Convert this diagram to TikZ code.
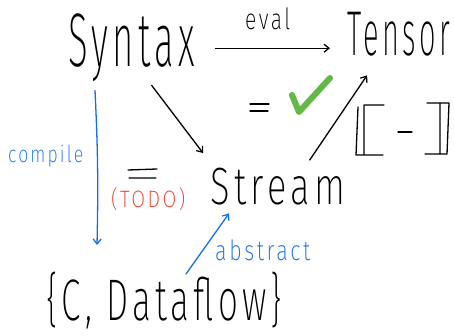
\documentclass[tikz,border=0pt]{standalone}
\usepackage{fontspec}
\usepackage{graphicx}
\setmainfont{Fira Sans ExtraLight}[LetterSpace=12]
\usetikzlibrary{arrows.meta,calc}
\definecolor{penblue}{RGB}{20,110,240}
\definecolor{penred}{RGB}{235,60,40}
\definecolor{pengreen}{RGB}{100,185,70}
\begin{document}
\begin{tikzpicture}[x=1pt,y=-1pt,line cap=round,line join=round,
  ink/.style={line width=1.3pt,black},
  arr/.style={ink,-{Straight Barb[length=5pt,width=8pt]}},
  barr/.style={arr,draw=penblue},
  word/.style={inner sep=0pt,anchor=north west}]
\useasboundingbox[fill=white] (0,0) rectangle (454,336);

% words
\node[word] (syntax) at (68,14) {\resizebox*{127pt}{68pt}{Syntax}};
\node[word] (tensor) at (347,12) {\resizebox*{103pt}{44pt}{Tensor}};
\node[word] (eval) at (245,8) {\resizebox*{45pt}{22pt}{eval}};
\node[word] (stream) at (210,168) {\resizebox*{135pt}{37pt}{Stream}};
\node[word,text=penblue] (compile) at (8,145) {\resizebox*{75pt}{22pt}{compile}};
\node[word,text=penblue] (abstract) at (215,240) {\resizebox*{95pt}{21pt}{abstract}};
\node[word,text=penred] (todo) at (111,188) {\resizebox*{74pt}{23pt}{(TODO)}};
\node[word] (targets) at (46,272) {\resizebox*{236pt}{57pt}{\{C, Dataflow\}}};

% arrows
\draw[arr] ([xshift=20pt]syntax.east) -- ([xshift=-17pt]syntax.east -| tensor.west);
\draw[arr] ([shift={(20,3)}]syntax.south) -- ([shift={(-7,-15)}]stream.north west);
\draw[arr] ([shift={(32,-8)}]stream.north) -- ([shift={(20,19)}]tensor.south west);
\draw[barr] ([shift={(27,8)}]syntax.south west) to[bend left=2] ([shift={(51,-27)}]targets.north west);
\draw[barr] ([shift={(140,2)}]targets.north west) -- ([shift={(19,8)}]stream.south west);

% equals signs
\draw[ink] (250,104) -- (269,104) (250,111) -- (268,111);
\draw[ink] (128,170) -- (157,169) (129,178) -- (156,178);

% check mark
\draw[pengreen,line width=6pt] (292,95) -- (299,112) -- (330,78);

% semantic brackets
\draw[ink] (384,105) -- (364,105) -- (364,155) (358,107) -- (356,155) -- (383,155);
\draw[ink] (398,132) -- (412,132);
\draw[ink] (427,103) -- (449,103) -- (447,154) -- (425,154) (440,104) -- (440,153);
\end{tikzpicture}
\end{document}
